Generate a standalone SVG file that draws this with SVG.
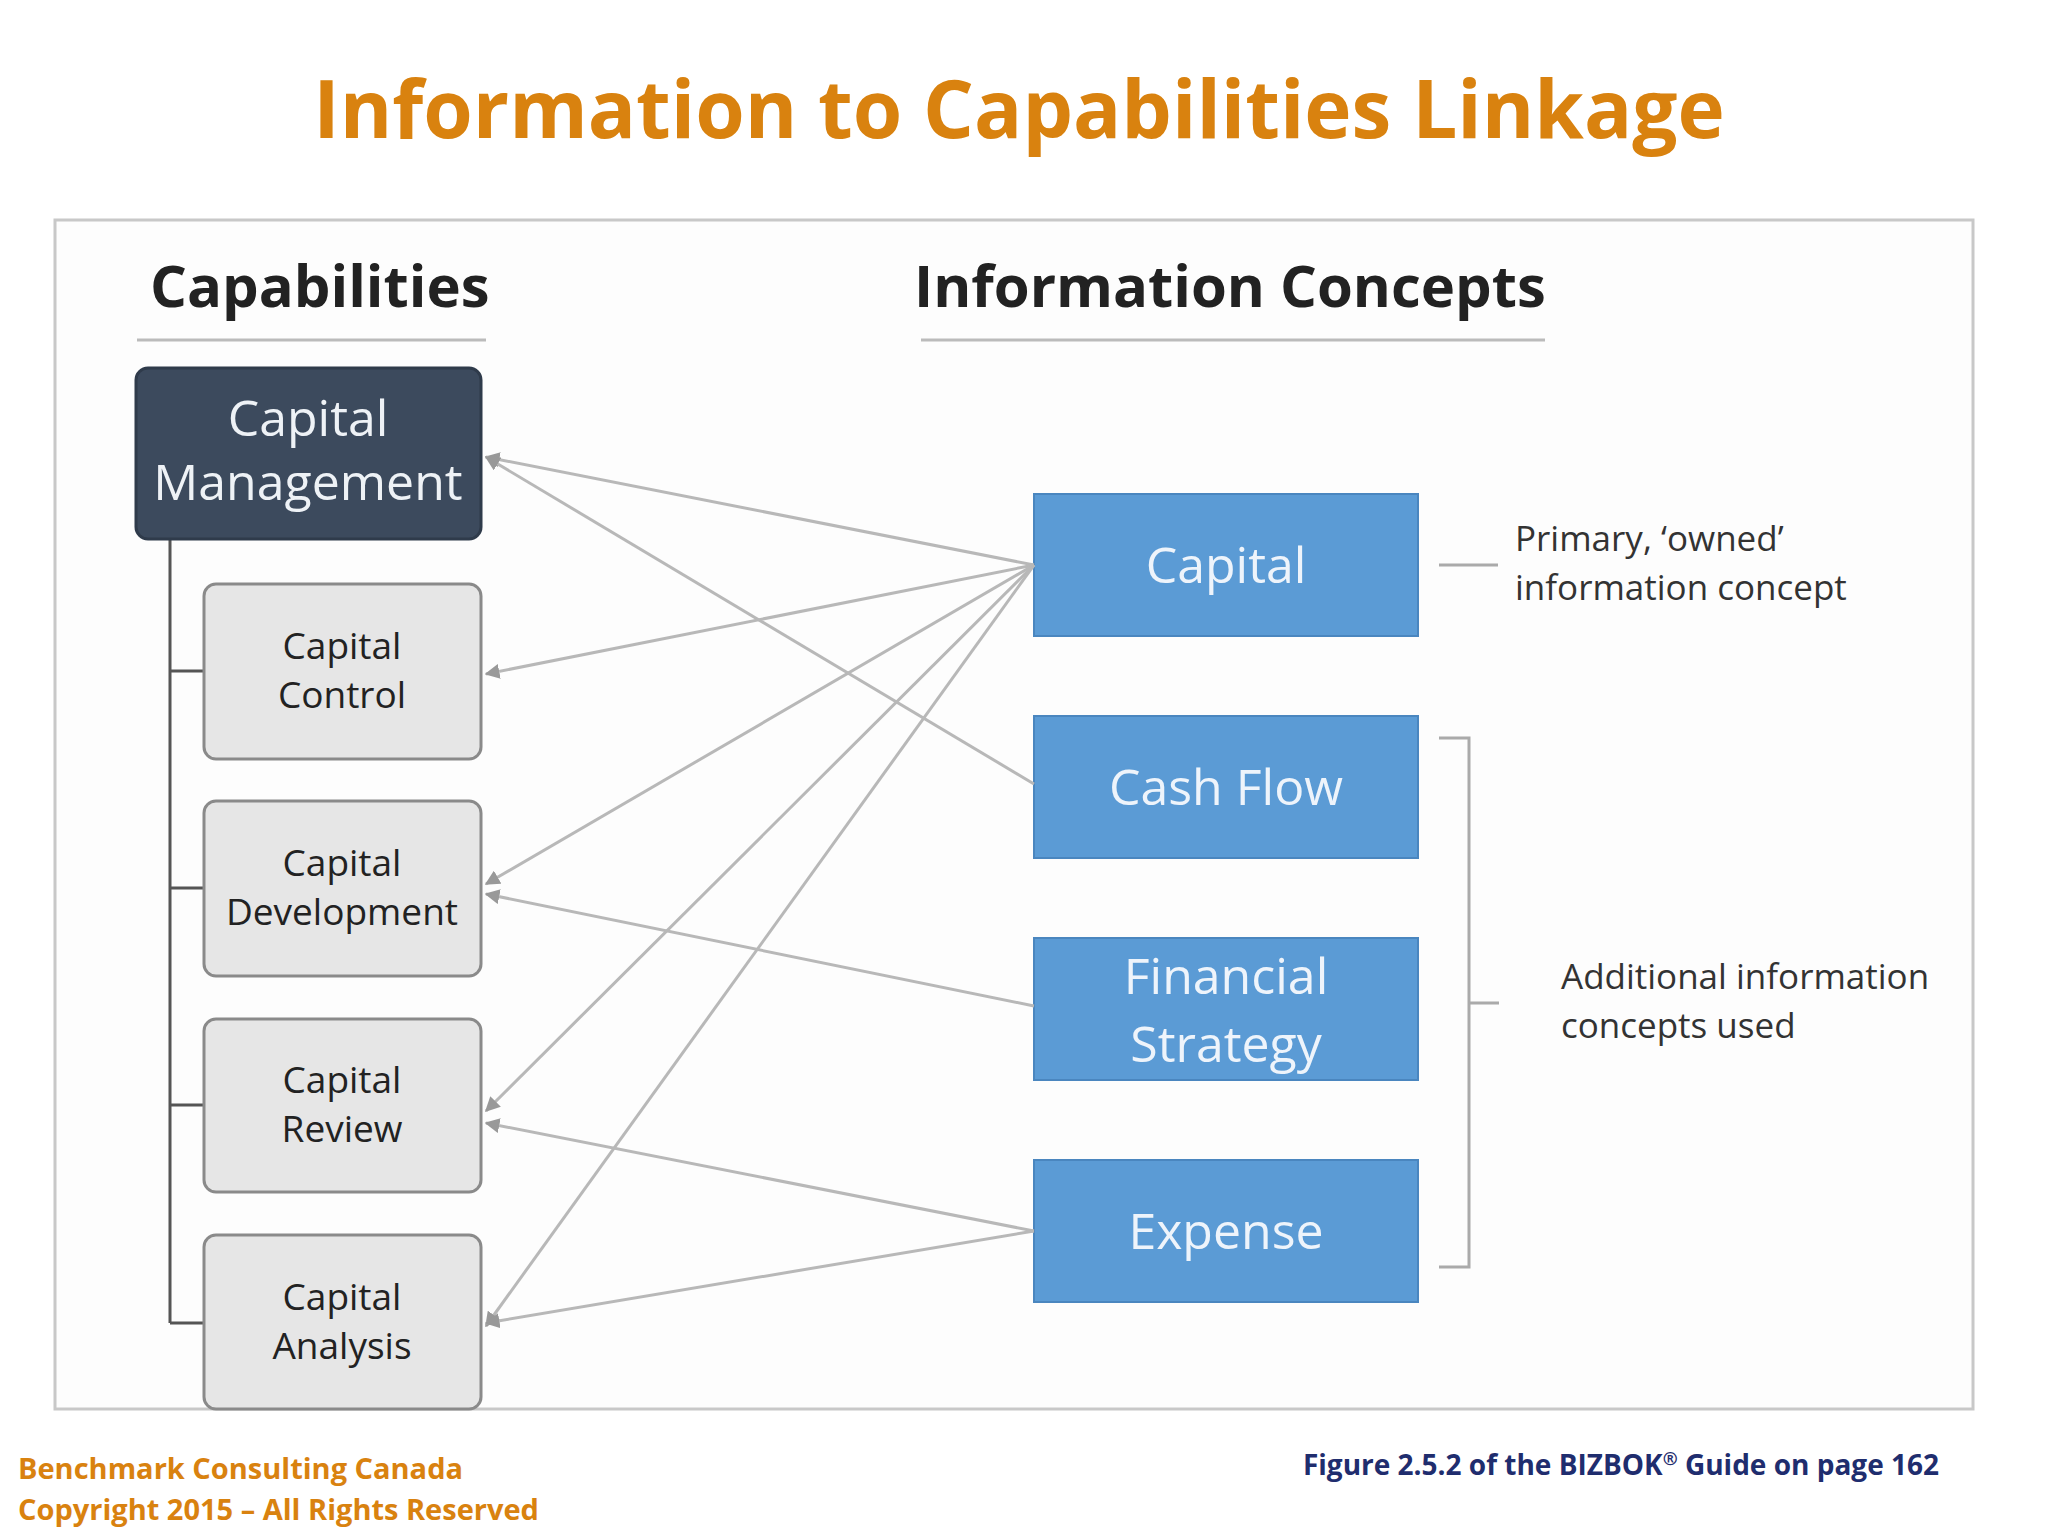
<svg xmlns="http://www.w3.org/2000/svg" width="2048" height="1536" viewBox="0 0 2048 1536">
<defs>
<style>
.t{font-family:"Open Sans","Noto Sans",sans-serif}
.gb{fill:#e6e6e6;stroke:#8a8a8a;stroke-width:3}
.bb{fill:#5b9bd5;stroke:#4a86bf;stroke-width:2}
.bt{fill:#eef4fb;font-size:50px;text-anchor:middle}
.gt{fill:#222;font-size:37px;text-anchor:middle}
.c{stroke:#b8b8b8;stroke-width:3;fill:none;marker-end:url(#a)}
.ann{fill:#333;font-size:35px}
</style>
<marker id="a" viewBox="0 0 10 10" refX="9" refY="5" markerWidth="5" markerHeight="5" orient="auto"><path d="M0,0L10,5L0,10z" fill="#999"/></marker>
</defs>
<rect width="2048" height="1536" fill="#fff"/>
<text class="t" x="1019" y="138" font-size="80" font-weight="bold" fill="#d9820f" text-anchor="middle">Information to Capabilities Linkage</text>
<rect x="55" y="220" width="1918" height="1189" fill="#fdfdfd" stroke="#c8c8c8" stroke-width="3"/>
<text class="t" x="150" y="307" font-size="58" font-weight="bold" fill="#222">Capabilities</text>
<line x1="137" y1="340" x2="486" y2="340" stroke="#bbb" stroke-width="3"/>
<text class="t" x="914" y="307" font-size="58" font-weight="bold" fill="#222">Information Concepts</text>
<line x1="921" y1="340" x2="1545" y2="340" stroke="#bbb" stroke-width="3"/>
<g id="tree" stroke="#555" stroke-width="3" fill="none">
<path d="M170,539V1323M170,671H204M170,888H204M170,1105H204M170,1323H204"/>
</g>
<g id="capmgmt"><rect x="136" y="368" width="345" height="171" rx="12" fill="#3c4a5d" stroke="#2f3b4b" stroke-width="3"/>
<text class="t" x="308" y="436" font-size="50" fill="#eef2f6" text-anchor="middle">Capital</text>
<text class="t" x="308" y="500" font-size="50" fill="#eef2f6" text-anchor="middle">Management</text></g>
<g id="capcontrol"><rect class="gb" x="204" y="584" width="277" height="175" rx="12"/>
<text class="t gt" x="342" y="659">Capital</text><text class="t gt" x="342" y="708">Control</text></g>
<g id="capdev"><rect class="gb" x="204" y="801" width="277" height="175" rx="12"/>
<text class="t gt" x="342" y="876">Capital</text><text class="t gt" x="342" y="925">Development</text></g>
<g id="capreview"><rect class="gb" x="204" y="1019" width="277" height="173" rx="12"/>
<text class="t gt" x="342" y="1093">Capital</text><text class="t gt" x="342" y="1142">Review</text></g>
<g id="capanalysis"><rect class="gb" x="204" y="1235" width="277" height="174" rx="12"/>
<text class="t gt" x="342" y="1310">Capital</text><text class="t gt" x="342" y="1359">Analysis</text></g>
<g id="capital"><rect class="bb" x="1034" y="494" width="384" height="142"/><text class="t bt" x="1226" y="583">Capital</text></g>
<g id="cashflow"><rect class="bb" x="1034" y="716" width="384" height="142"/><text class="t bt" x="1226" y="805">Cash Flow</text></g>
<g id="finstrat"><rect class="bb" x="1034" y="938" width="384" height="142"/><text class="t bt" x="1226" y="994">Financial</text><text class="t bt" x="1226" y="1062">Strategy</text></g>
<g id="expense"><rect class="bb" x="1034" y="1160" width="384" height="142"/><text class="t bt" x="1226" y="1249">Expense</text></g>
<g id="connectors">
<path class="c" d="M1034,565L486,457"/>
<path class="c" d="M1034,565L486,674"/>
<path class="c" d="M1034,565L486,884"/>
<path class="c" d="M1034,565L486,1111"/>
<path class="c" d="M1034,565L486,1326"/>
<path class="c" d="M1034,784L486,457"/>
<path class="c" d="M1034,1006L486,894"/>
<path class="c" d="M1034,1231L486,1123"/>
<path class="c" d="M1034,1231L486,1323"/>
</g>
<g id="annotations">
<line x1="1439" y1="565" x2="1498" y2="565" stroke="#aaa" stroke-width="3"/>
<text class="t ann" x="1515" y="551">Primary, ‘owned’</text>
<text class="t ann" x="1515" y="600">information concept</text>
<path d="M1439,738H1469V1267H1439M1469,1003H1499" stroke="#aaa" stroke-width="3" fill="none"/>
<text class="t ann" x="1561" y="989">Additional information</text>
<text class="t ann" x="1561" y="1038">concepts used</text>
</g>
<text class="t" x="18" y="1479" font-size="29" font-weight="bold" fill="#d9820f">Benchmark Consulting Canada</text>
<text class="t" x="18" y="1520" font-size="29" font-weight="bold" fill="#d9820f">Copyright 2015 –  All Rights Reserved</text>
<text class="t" x="1939" y="1475" font-size="28" font-weight="bold" fill="#1f2d6e" text-anchor="end">Figure 2.5.2 of the BIZBOK<tspan font-size="18" dy="-10">®</tspan><tspan dy="10"> Guide on page 162</tspan></text>
</svg>
